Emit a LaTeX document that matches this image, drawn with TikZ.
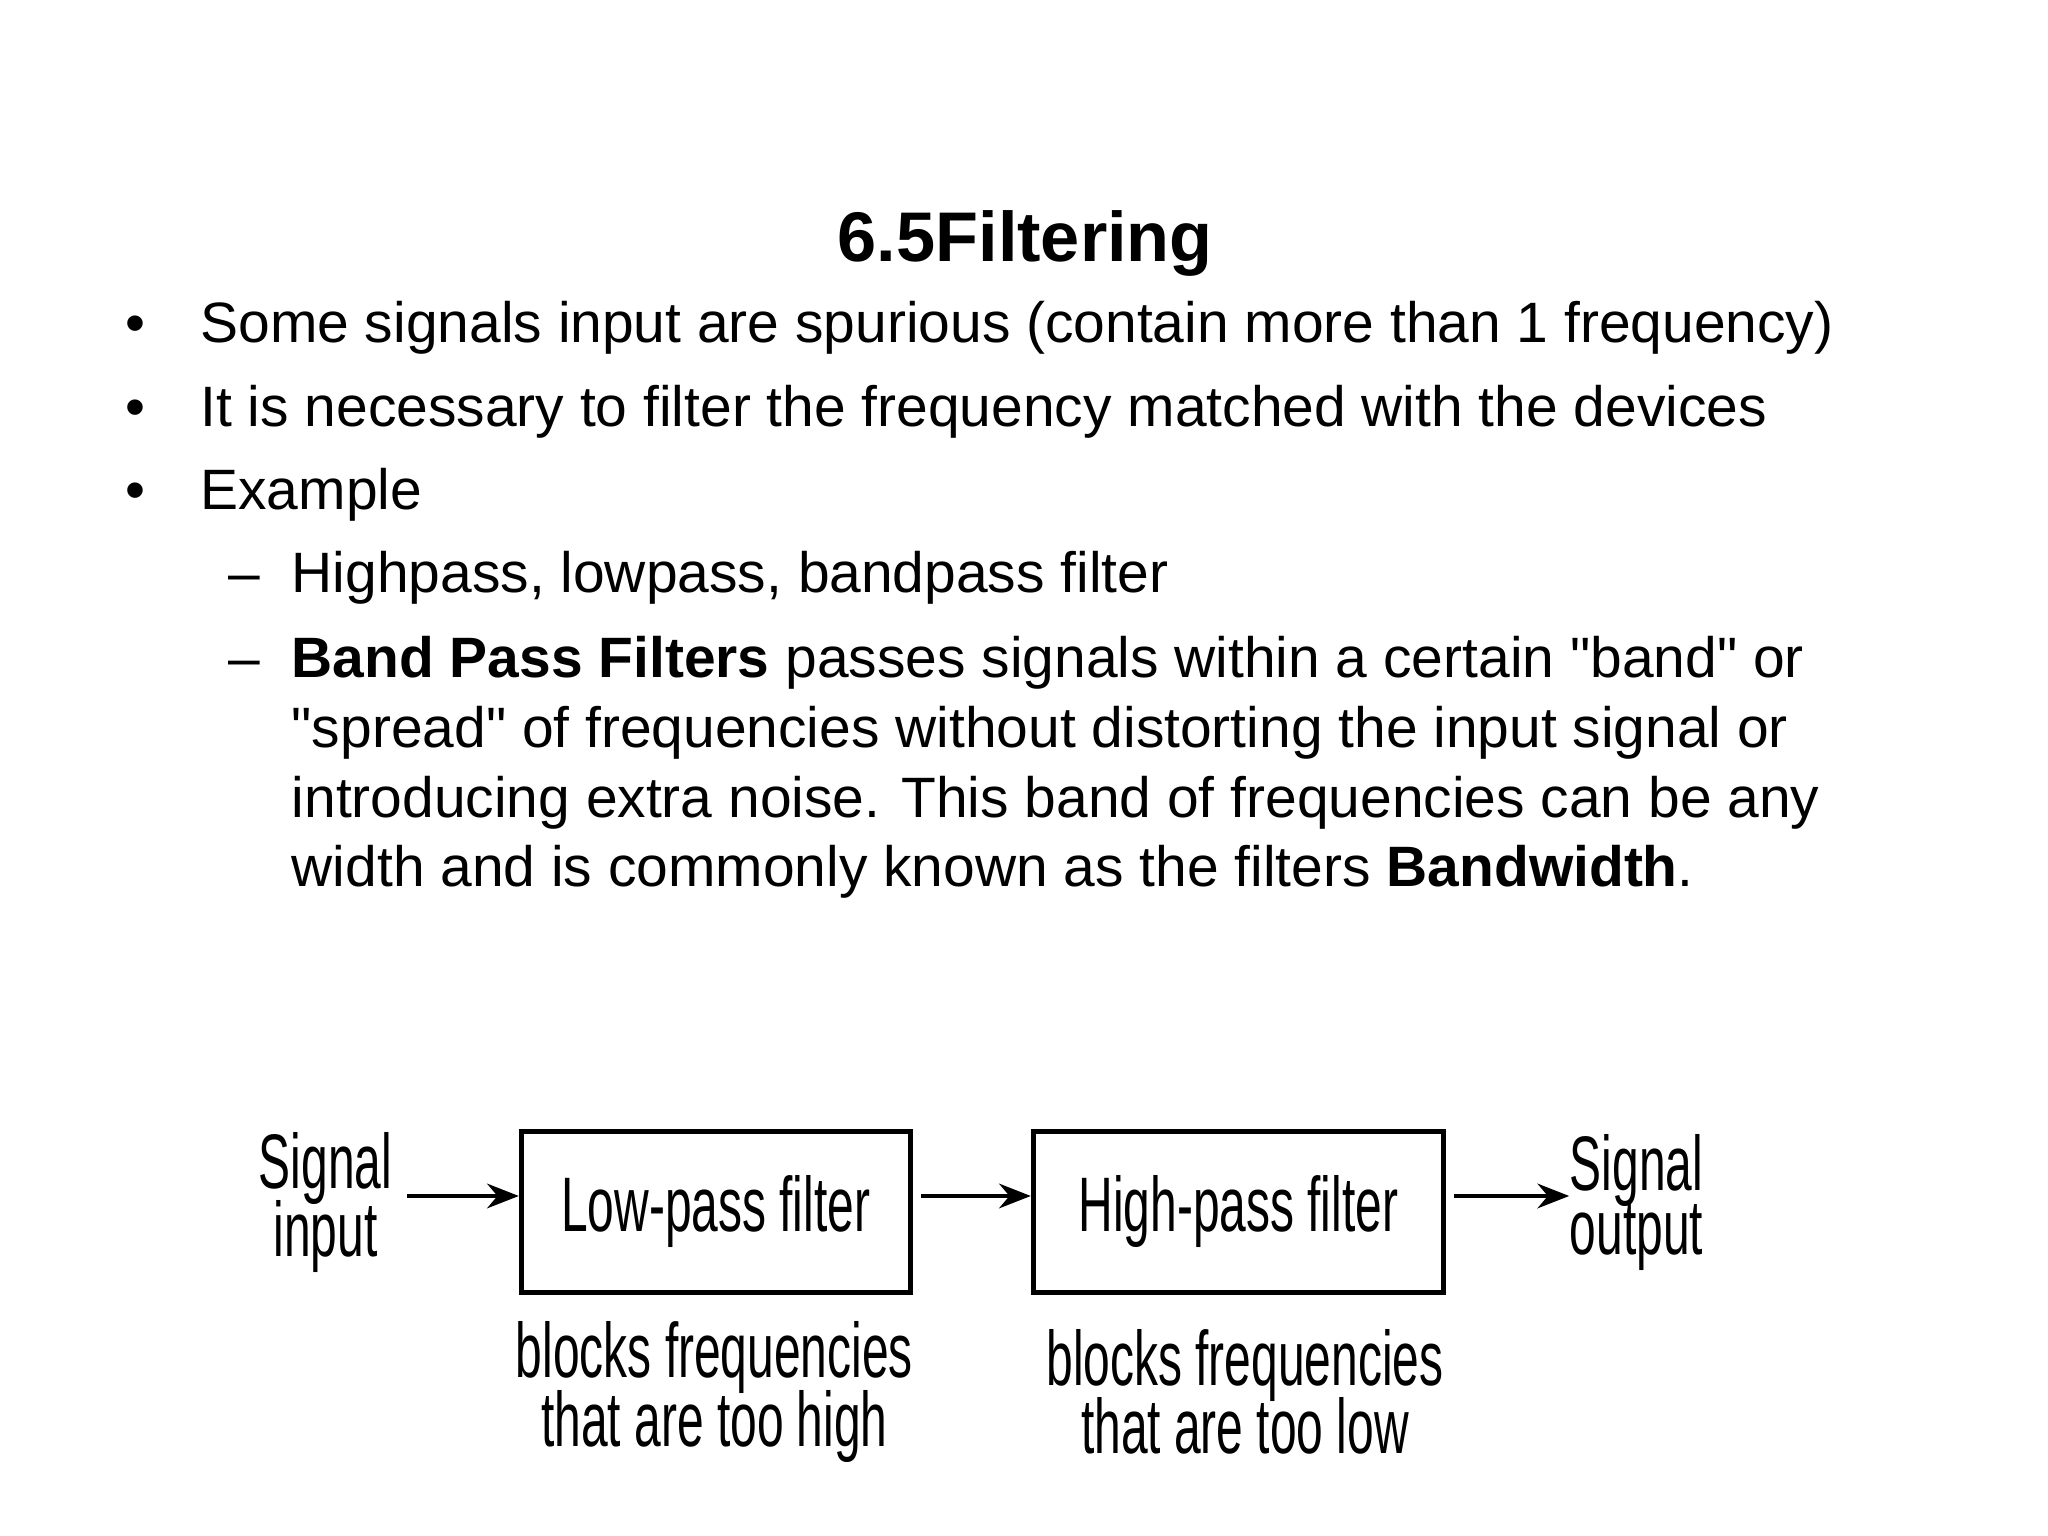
\documentclass[tikz,border=0pt]{standalone}
\usepackage{fontspec}
\setmainfont{Liberation Sans}
\usetikzlibrary{arrows.meta}
\newcommand{\narrow}[1]{\scalebox{0.62}[1]{#1}}
\tikzset{
 body/.style={anchor=base west,font=\fontsize{16.2}{19.9}\selectfont,inner sep=0pt},
 fbox/.style={draw,line width=1.4pt,inner sep=0pt},
 dlab/.style={font=\fontsize{22}{20}\selectfont,align=center,inner sep=0pt},
 arr/.style={line width=1.2pt,-{Stealth[length=9pt,width=7pt]}}
}
\begin{document}
\begin{tikzpicture}[x=0.01323cm,y=-0.01323cm]
\useasboundingbox (0,0) rectangle (1548,1161);
\node[font=\fontsize{20}{24}\selectfont\bfseries,anchor=base] (title) at (775,198) {6.5Filtering};
\foreach \y/\t [count=\i] in {259/{Some signals input are spurious (contain more than 1 frequency)},
 322/{It is necessary to filter the frequency matched with the devices},
 385/{Example}}{
 \node[body] (b\i) at (151,\y) {\t};
 \node[body] (d\i) at (94,\y) {•};
}
\node[body] (s1) at (220,448) {Highpass, lowpass, bandpass filter};
\node[body] (m1) at (172,448) {–};
\node[body] (m2) at (172,512) {–};
\node[body] (s2a) at (220,512) {\textbf{Band Pass Filters} passes signals within a certain \textquotedbl band\textquotedbl{} or};
\node[body] (s2b) at (220,565) {\textquotedbl spread\textquotedbl{} of frequencies without distorting the input signal or};
\node[body] (s2c) at (220,618) {introducing extra noise. This band of frequencies can be any};
\node[body] (s2d) at (220,670) {width and is commonly known as the filters \textbf{Bandwidth}.};
\begin{scope}[shift={(-4,-11)}]
\node[fbox,minimum width=294*0.01323cm,minimum height=122*0.01323cm] (lp) at (545,927) {};
\node[dlab] at (lp) {\narrow{Low-pass filter}};
\node[fbox,minimum width=310*0.01323cm,minimum height=122*0.01323cm] (hp) at (940,927) {};
\node[dlab] at (hp) {\narrow{High-pass filter}};
\node[dlab] (in) at (250,920) {\narrow{Signal}\\[-2pt]\narrow{input}};
\node[dlab] (out) at (1241,920) {\narrow{Signal}\\[-2pt]\narrow{output}};
\node[dlab] (lpl) at (544,1063) {\narrow{blocks frequencies}\\[-2pt]\narrow{that are too high}};
\node[dlab] (hpl) at (945,1063) {\narrow{blocks frequencies}\\[-2pt]\narrow{that are too low}};
\coordinate (a0) at (312,915);
\draw[arr] (a0) -- (lp.west|-a0);
\draw[arr] (lp.east|-a0) ++(6,0) -- (hp.west|-a0);
\draw[arr] (hp.east|-a0) ++(6,0) -- (out.west|-a0);
\end{scope}
\end{tikzpicture}
\end{document}
